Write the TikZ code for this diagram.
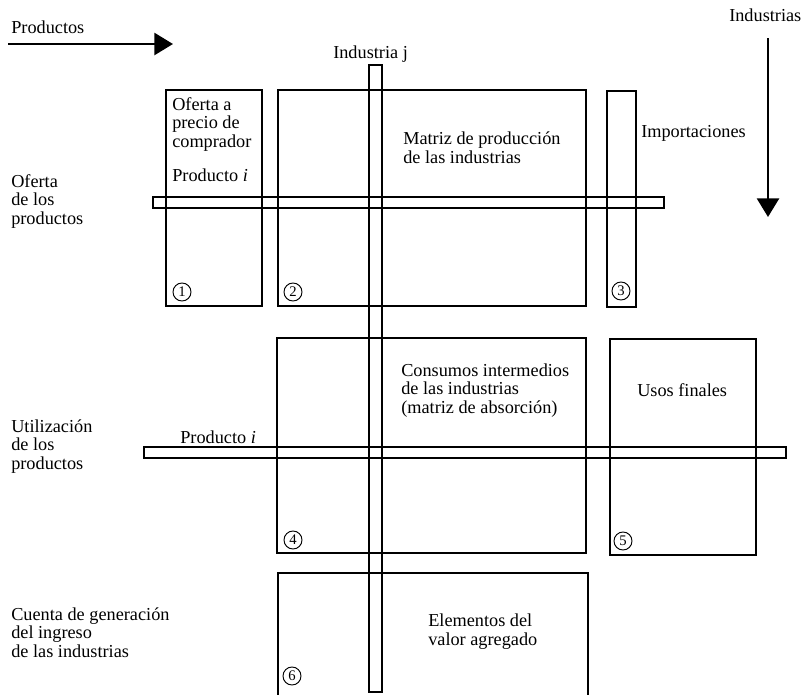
\documentclass[tikz,border=0pt]{standalone}
\usepackage{fontspec}
\setmainfont{Liberation Serif}
\usetikzlibrary{arrows.meta}

\begin{document}
\begin{tikzpicture}[x=0.75pt, y=-0.75pt,
	>={Triangle[length=14pt, width=16.5pt]},
	caja/.style={line width=0.8pt},
	flecha/.style={->, line width=2pt},
	texto/.style={anchor=base west, inner sep=0pt, align=left,
		font=\fontsize{13.7}{13.6}\selectfont},
	num/.style={draw, circle, inner sep=0pt, minimum size=13.5pt,
		line width=0.7pt, font=\fontsize{11}{11}\selectfont}]
	
	\useasboundingbox (0,0) rectangle (806,694);
	
	% 1. Flechas de productos e industrias
	\node[texto] (prod) at (11,33) {Productos};
	\coordinate (prodA) at (8,44);
	\coordinate (prodB) at (173,44);
	\draw[flecha] (prodA) -- (prodB);
	
	\node[texto] (ind) at (729,21) {Industrias};
	\coordinate (indA) at (768,38);
	\coordinate (indB) at (768,217);
	\draw[flecha] (indA) -- (indB);
	
	% 2. Bloques de oferta
	\draw[caja] (166,90) rectangle (262,306);
	\draw[caja] (278,90) rectangle (586,306);
	\draw[caja] (607,91) rectangle (636,307);
	
	% 3. Bloques de utilizacion
	\draw[caja] (277,338) rectangle (586,553);
	\draw[caja] (610,339) rectangle (756,555);
	
	% 4. Valor agregado (abierto abajo)
	\draw[caja] (278,700) |- (588,573) -- (588,700);
	
	% 5. Barras de industria j y producto i
	\draw[caja] (369,65) rectangle (382,692);
	\draw[caja] (153,197) rectangle (664,208);
	\draw[caja] (144,447) rectangle (786,458);
	
	% 6. Textos (base = ultima linea)
	\node[texto] (indj) at (333,58) {Industria j};
	\node[texto] (oferta) at (172,147) {Oferta a\\precio de\\comprador};
	\node[texto] (prodi1) at (172,181) {Producto \textit{i}};
	\node[texto] (matriz) at (403,163) {Matriz de producción\\de las industrias};
	\node[texto] (import) at (641,137) {Importaciones};
	\node[texto] (ofprod) at (11,224) {Oferta\\de los\\productos};
	\node[texto] (consumo) at (401,413) {Consumos intermedios\\de las industrias\\(matriz de absorción)};
	\node[texto] (usos) at (637,396) {Usos finales};
	\node[texto] (utprod) at (11,469) {Utilización\\de los\\productos};
	\node[texto] (prodi2) at (180,443) {Producto \textit{i}};
	\node[texto] (valor) at (428,645) {Elementos del\\valor agregado};
	\node[texto] (cuenta) at (11,657) {Cuenta de generación\\del ingreso\\de las industrias};
	
	% 7. Numeros de los bloques
	\node[num] (n1) at (182,292) {1};
	\node[num] (n2) at (293,292) {2};
	\node[num] (n3) at (621,291) {3};
	\node[num] (n4) at (293,540) {4};
	\node[num] (n5) at (623,541) {5};
	\node[num] (n6) at (292,676) {6};
	
\end{tikzpicture}
\end{document}
